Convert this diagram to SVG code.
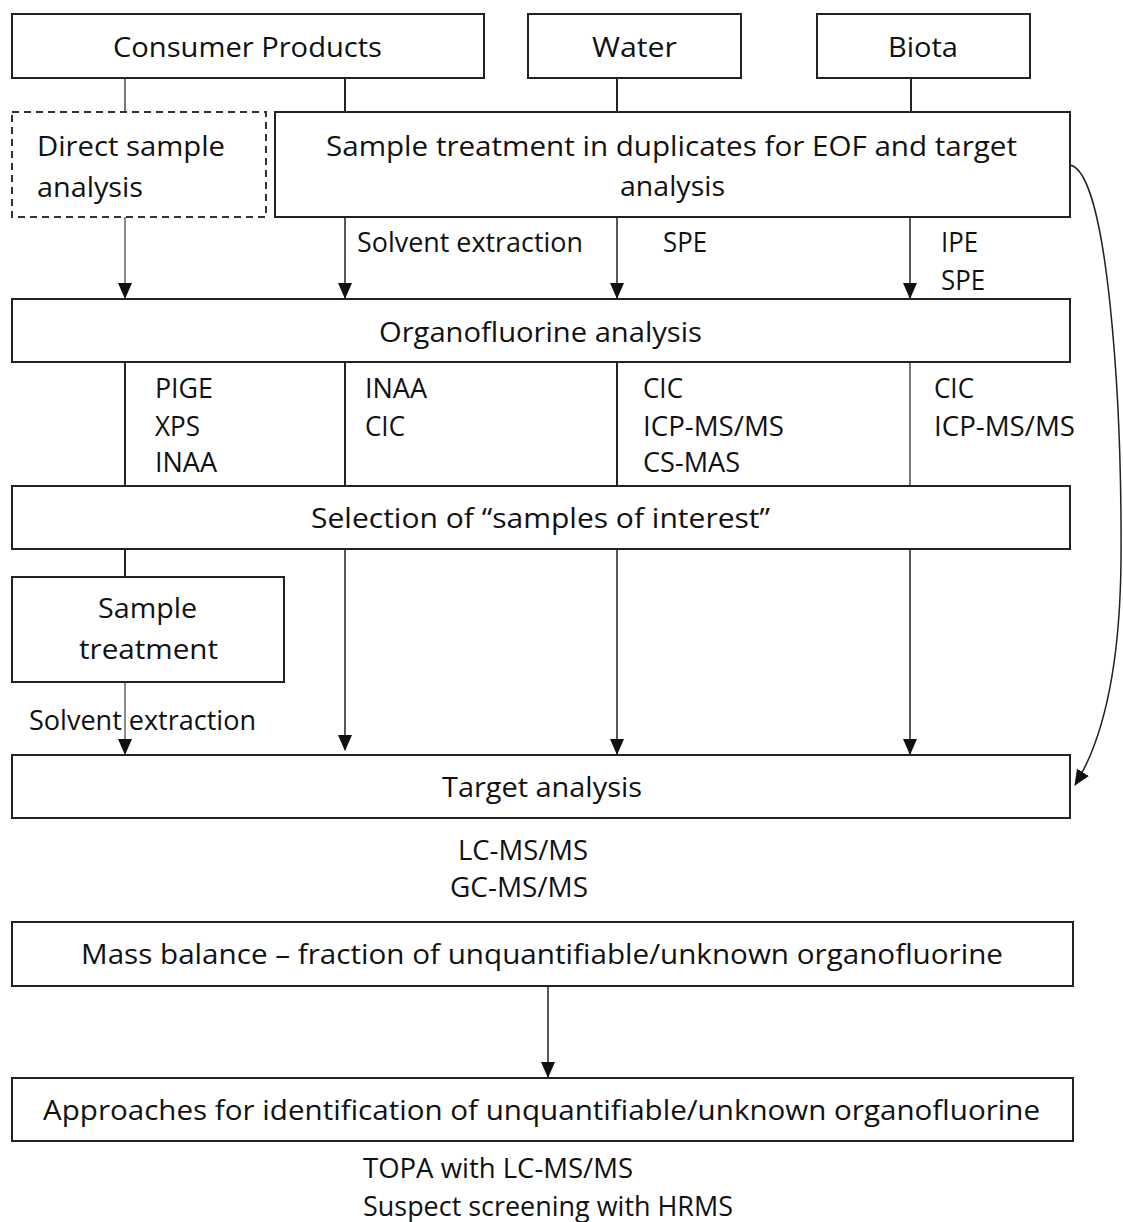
<svg xmlns="http://www.w3.org/2000/svg" width="1123" height="1222" viewBox="0 0 1123 1222">
<style>
.box{fill:#fff;stroke:#222;stroke-width:2}
.dash{fill:#fff;stroke:#333;stroke-width:2;stroke-dasharray:7 5}
.t{font-family:"Open Sans","Liberation Sans",sans-serif;font-size:28px;fill:#111}
.s{font-size:27px}
.ln{stroke:#222;stroke-width:2;fill:none}
.lg{stroke:#777;stroke-width:2;fill:none}
.ar{stroke:#222;stroke-width:1.5;fill:none;marker-end:url(#ah)}
</style>
<defs>
<marker id="ah" markerWidth="16" markerHeight="14" refX="15" refY="7" orient="auto" markerUnits="userSpaceOnUse">
<path d="M0,0 L16,7 L0,14 Z" fill="#111"/>
</marker>
</defs>
<rect width="1123" height="1222" fill="#fff"/>
<g id="connectors">
<line class="lg" x1="125" y1="78" x2="125" y2="112"/>
<line class="ln" x1="345" y1="78" x2="345" y2="112"/>
<line class="ln" x1="617" y1="78" x2="617" y2="112"/>
<line class="ln" x1="911" y1="78" x2="911" y2="112"/>
<line class="ar" x1="125" y1="217" x2="125" y2="298" style="stroke:#666"/>
<line class="ar" x1="345" y1="217" x2="345" y2="298"/>
<line class="ar" x1="617" y1="217" x2="617" y2="298"/>
<line class="ar" x1="910" y1="217" x2="910" y2="298"/>
<line class="ln" x1="125" y1="362" x2="125" y2="486"/>
<line class="ln" x1="345" y1="362" x2="345" y2="486"/>
<line class="ln" x1="617" y1="362" x2="617" y2="486"/>
<line class="lg" x1="910" y1="362" x2="910" y2="486"/>
<line class="ln" x1="125" y1="549" x2="125" y2="577"/>
<line class="ar" x1="125" y1="682" x2="125" y2="754" style="stroke:#666"/>
<line class="ar" x1="345" y1="549" x2="345" y2="750"/>
<line class="ar" x1="617" y1="549" x2="617" y2="754"/>
<line class="ar" x1="910" y1="549" x2="910" y2="754"/>
<path class="ar" d="M1070,165 C1108,172 1122,400 1121,560 C1120,680 1100,745 1075,785"/>
<line class="ar" x1="548" y1="986" x2="548" y2="1077"/>
</g>
<g id="consumer"><rect class="box" x="12" y="14" width="472" height="64"/><text class="t" x="113" y="57" textLength="269" lengthAdjust="spacingAndGlyphs">Consumer Products</text></g>
<g id="water"><rect class="box" x="528" y="14" width="213" height="64"/><text class="t" x="592" y="57" textLength="85" lengthAdjust="spacingAndGlyphs">Water</text></g>
<g id="biota"><rect class="box" x="817" y="14" width="213" height="64"/><text class="t" x="888" y="57" textLength="70" lengthAdjust="spacingAndGlyphs">Biota</text></g>
<g id="direct"><rect class="dash" x="12" y="112" width="254" height="105"/><text class="t" x="37" y="156" textLength="188" lengthAdjust="spacingAndGlyphs">Direct sample</text><text class="t" x="37" y="197" textLength="106" lengthAdjust="spacingAndGlyphs">analysis</text></g>
<g id="treatment"><rect class="box" x="275" y="112" width="795" height="105"/><text class="t" x="326" y="156" textLength="691" lengthAdjust="spacingAndGlyphs">Sample treatment in duplicates for EOF and target</text><text class="t" x="620" y="196" textLength="105" lengthAdjust="spacingAndGlyphs">analysis</text></g>
<g id="labels1">
<text class="t s" x="357" y="252" textLength="226" lengthAdjust="spacingAndGlyphs">Solvent extraction</text>
<text class="t s" x="663" y="252" textLength="44" lengthAdjust="spacingAndGlyphs">SPE</text>
<text class="t s" x="941" y="252" textLength="37" lengthAdjust="spacingAndGlyphs">IPE</text>
<text class="t s" x="941" y="290" textLength="44" lengthAdjust="spacingAndGlyphs">SPE</text>
</g>
<g id="organo"><rect class="box" x="12" y="299" width="1058" height="63"/><text class="t" x="379" y="342" textLength="323" lengthAdjust="spacingAndGlyphs">Organofluorine analysis</text></g>
<g id="labels2">
<text class="t s" x="155" y="398" textLength="58" lengthAdjust="spacingAndGlyphs">PIGE</text><text class="t s" x="155" y="436" textLength="45" lengthAdjust="spacingAndGlyphs">XPS</text><text class="t s" x="155" y="472" textLength="62" lengthAdjust="spacingAndGlyphs">INAA</text>
<text class="t s" x="365" y="398" textLength="62" lengthAdjust="spacingAndGlyphs">INAA</text><text class="t s" x="365" y="436" textLength="40" lengthAdjust="spacingAndGlyphs">CIC</text>
<text class="t s" x="643" y="398" textLength="40" lengthAdjust="spacingAndGlyphs">CIC</text><text class="t s" x="643" y="436" textLength="141" lengthAdjust="spacingAndGlyphs">ICP-MS/MS</text><text class="t s" x="643" y="472" textLength="97" lengthAdjust="spacingAndGlyphs">CS-MAS</text>
<text class="t s" x="934" y="398" textLength="40" lengthAdjust="spacingAndGlyphs">CIC</text><text class="t s" x="934" y="436" textLength="141" lengthAdjust="spacingAndGlyphs">ICP-MS/MS</text>
</g>
<g id="selection"><rect class="box" x="12" y="486" width="1058" height="63"/><text class="t" x="311" y="528" textLength="459" lengthAdjust="spacingAndGlyphs">Selection of “samples of interest”</text></g>
<g id="sampletreat"><rect class="box" x="12" y="577" width="272" height="105"/><text class="t" x="98" y="618" textLength="99" lengthAdjust="spacingAndGlyphs">Sample</text><text class="t" x="79" y="659" textLength="139" lengthAdjust="spacingAndGlyphs">treatment</text></g>
<text class="t s" x="29" y="730" textLength="227" lengthAdjust="spacingAndGlyphs">Solvent extraction</text>
<g id="target"><rect class="box" x="12" y="755" width="1058" height="63"/><text class="t" x="442" y="797" textLength="200" lengthAdjust="spacingAndGlyphs">Target analysis</text></g>
<g id="labels3"><text class="t s" x="458" y="860" textLength="130" lengthAdjust="spacingAndGlyphs">LC-MS/MS</text><text class="t s" x="450" y="897" textLength="138" lengthAdjust="spacingAndGlyphs">GC-MS/MS</text></g>
<g id="massbalance"><rect class="box" x="12" y="922" width="1061" height="64"/><text class="t" x="81" y="964" textLength="922" lengthAdjust="spacingAndGlyphs">Mass balance – fraction of unquantifiable/unknown organofluorine</text></g>
<g id="approaches"><rect class="box" x="12" y="1078" width="1061" height="63"/><text class="t" x="43" y="1120" textLength="997" lengthAdjust="spacingAndGlyphs">Approaches for identification of unquantifiable/unknown organofluorine</text></g>
<g id="labels4"><text class="t s" x="363" y="1178" textLength="270" lengthAdjust="spacingAndGlyphs">TOPA with LC-MS/MS</text><text class="t s" x="363" y="1216" textLength="370" lengthAdjust="spacingAndGlyphs">Suspect screening with HRMS</text></g>
</svg>
